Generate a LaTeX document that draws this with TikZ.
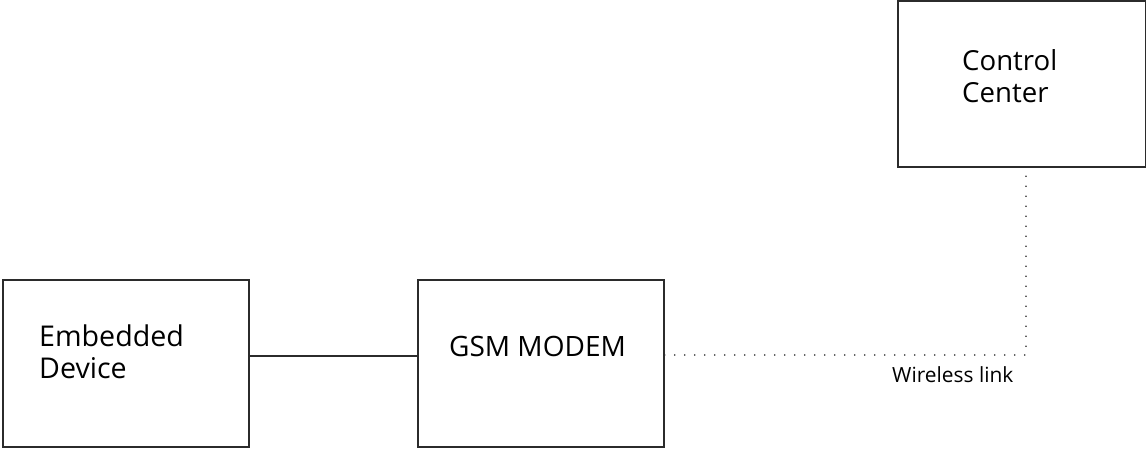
\documentclass[tikz,border=0pt]{standalone}
\usepackage{fontspec}
\setmainfont{Open Sans}
\definecolor{ink}{HTML}{2B2B2B}
\begin{document}
\begin{tikzpicture}[x=1pt,y=-1pt,
  box/.style={draw=ink,line width=1.6pt,inner sep=0pt},
  lbl/.style={inner sep=0pt,align=left,anchor=base west,text=black,font=\fontsize{#1}{32}\selectfont},
  link/.style={ink,line width=1.4pt},
  wlink/.style={ink,line width=1.8pt,line cap=round,dash pattern=on 0pt off 10pt}]
\useasboundingbox (0,0) rectangle (1146,449);
\node[box,minimum width=246pt,minimum height=167pt] (emb) at (126,363.5) {};
\node[box,minimum width=246pt,minimum height=167pt] (gsm) at (541,363.5) {};
\node[box,minimum width=248pt,minimum height=166pt] (cc) at (1022,84) {};
\node[lbl=28.6] (embt) at (39,378) {Embedded\\Device};
\node[lbl=28] (gsmt) at (449,356) {GSM MODEM};
\node[lbl=27.6] (cct) at (962,103) {Control\\Center};
\coordinate (corner) at (1026,355);
\draw[link] (emb.east |- 0,356) -- (gsm.west |- 0,356);
\draw[wlink] (gsm.east |- corner) -- (corner) -- (corner |- cc.south);
\node[lbl=20.9] (wl) at (892,382) {Wireless link};
\end{tikzpicture}
\end{document}
